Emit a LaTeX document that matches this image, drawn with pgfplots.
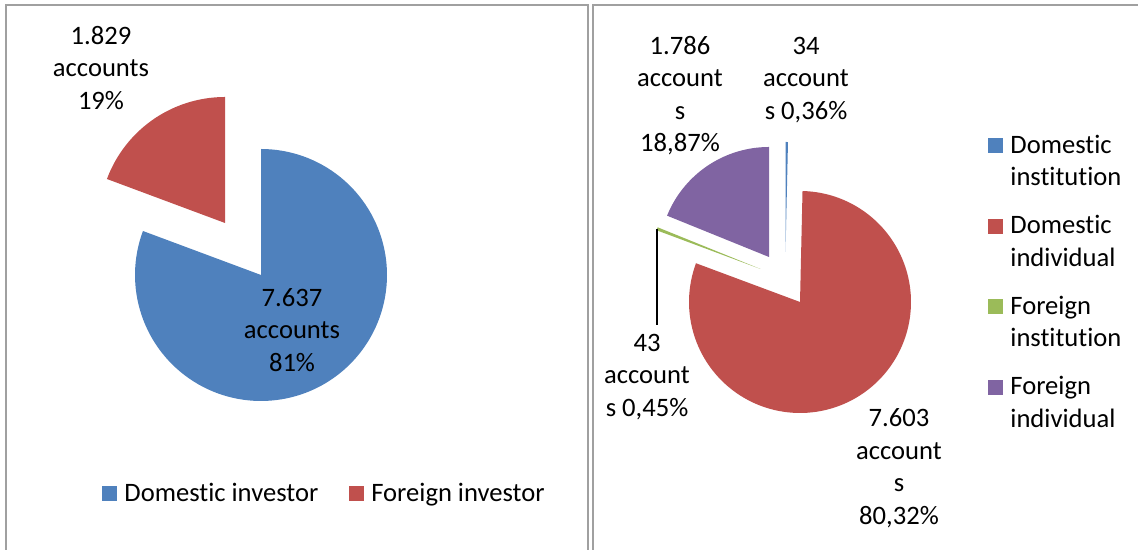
\documentclass[border=0pt]{standalone}
\usepackage{fontspec}
\setmainfont{Carlito}[Ligatures={NoCommon}]
\usepackage{pgfplots}
\pgfplotsset{compat=1.18}
\definecolor{cblue}{RGB}{79,129,189}
\definecolor{cred}{RGB}{192,80,77}
\definecolor{cgreen}{RGB}{155,187,89}
\definecolor{cpurple}{RGB}{128,100,162}
\definecolor{framegray}{RGB}{160,160,160}
\newcommand{\lbl}{\fontsize{13.3pt}{16.25pt}\selectfont}
% data (number of accounts)
\def\DomInv{7637}
\def\ForInv{1829}
\def\DomInst{34}
\def\DomIndiv{7603}
\def\ForInst{43}
\def\ForIndiv{1786}
\begin{document}
\begin{tikzpicture}
\useasboundingbox (0,0) rectangle (569pt,275pt);
\pgfmathsetmacro{\Ltot}{\DomInv+\ForInv}
\pgfmathsetmacro{\La}{90-360*(\DomInv/\Ltot)}
\pgfmathsetmacro{\Lb}{\La+360}
\pgfmathsetmacro{\Rtot}{\DomInst+\DomIndiv+\ForInst+\ForIndiv}
\pgfmathsetmacro{\Ra}{90-360*(\DomInst/\Rtot)}
\pgfmathsetmacro{\Rb}{\Ra-360*(\DomIndiv/\Rtot)}
\pgfmathsetmacro{\Rc}{\Rb-360*(\ForInst/\Rtot)}
% ---------------- left panel ----------------
\begin{axis}[at={(0pt,0pt)}, anchor=south west, scale only axis,
  width=295pt, height=275pt, xmin=0, xmax=590, ymin=0, ymax=550,
  hide axis, clip=false, legend columns=2,
  legend image code/.code={\fill[#1] (0pt,-3.75pt) rectangle (7.5pt,3.75pt);},
  legend cell align=left,
  legend style={draw=none, fill=none, at={(axis cs:102,56)}, anchor=west,
    inner sep=0pt, font=\lbl, nodes={inner sep=0pt},
    /tikz/every odd column/.append style={column sep=3.5pt},
    /tikz/every even column/.append style={column sep=15.5pt}}]
\draw[framegray, line width=1.2pt] (axis cs:6,-20) -- (axis cs:6,545) -- (axis cs:588,545) -- (axis cs:588,-20);
\addplot[draw=none, fill=cblue, domain=\La:90, samples=120]
  ({261+126*cos(x)},{275+126*sin(x)}) -- (axis cs:261,275) -- cycle;
\addlegendentry{Domestic investor}
\addplot[draw=none, fill=cred, domain=90:\Lb, samples=60]
  ({225+126*cos(x)},{327+126*sin(x)}) -- (axis cs:225,327) -- cycle;
\addlegendentry{Foreign investor}
\node[align=center, font=\lbl] at (axis cs:101,482) {1.829\\accounts\\19\%};
\node[align=center, font=\lbl] at (axis cs:292,220) {7.637\\accounts\\81\%};
\end{axis}
% ---------------- right panel ----------------
\begin{axis}[at={(295pt,0pt)}, anchor=south west, scale only axis,
  width=274pt, height=275pt, xmin=590, xmax=1138, ymin=0, ymax=550,
  hide axis, clip=false,
  legend image code/.code={\fill[#1] (0pt,4.35pt) rectangle (7.5pt,11.85pt);},
  legend cell align=left,
  legend style={draw=none, fill=none, at={(axis cs:988,415.5)}, anchor=north west,
    inner sep=0pt, font=\lbl, row sep=13.35pt, align=left,
    nodes={inner sep=0pt, align=left},
    /tikz/every odd column/.append style={column sep=3.5pt}}]
\draw[framegray, line width=1.2pt] (axis cs:593,-20) -- (axis cs:593,545) -- (axis cs:1160,545);
\addplot[draw=none, fill=cblue, domain=\Ra:90, samples=5]
  ({785.5+110*cos(x)},{298+110*sin(x)}) -- (axis cs:785.5,298) -- cycle;
\addlegendentry{Domestic\\institution}
\addplot[draw=none, fill=cred, domain=\Rb:\Ra, samples=120]
  ({800+111*cos(x)},{248+111*sin(x)}) -- (axis cs:800,248) -- cycle;
\addlegendentry{Domestic\\individual}
\addplot[draw=none, fill=cgreen, domain=\Rc:\Rb, samples=5]
  ({760.5+111*cos(x)},{281+111*sin(x)}) -- (axis cs:760.5,281) -- cycle;
\addlegendentry{Foreign\\institution}
\addplot[draw=none, fill=cpurple, domain=-270:\Rc, samples=60]
  ({769+110*cos(x)},{293+110*sin(x)}) -- (axis cs:769,293) -- cycle;
\addlegendentry{Foreign\\individual}
\draw[black, line width=0.75pt] (axis cs:657,321) -- (axis cs:657,225);
\node[align=center, font=\lbl] at (axis cs:680,454.5) {1.786\\account\\s\\18,87\%};
\node[align=center, font=\lbl] at (axis cs:806,470) {34\\account\\s 0,36\%};
\node[align=center, font=\lbl] at (axis cs:647,173) {43\\account\\s 0,45\%};
\node[align=center, font=\lbl] at (axis cs:899,82) {7.603\\account\\s\\80,32\%};
\end{axis}
\end{tikzpicture}
\end{document}
